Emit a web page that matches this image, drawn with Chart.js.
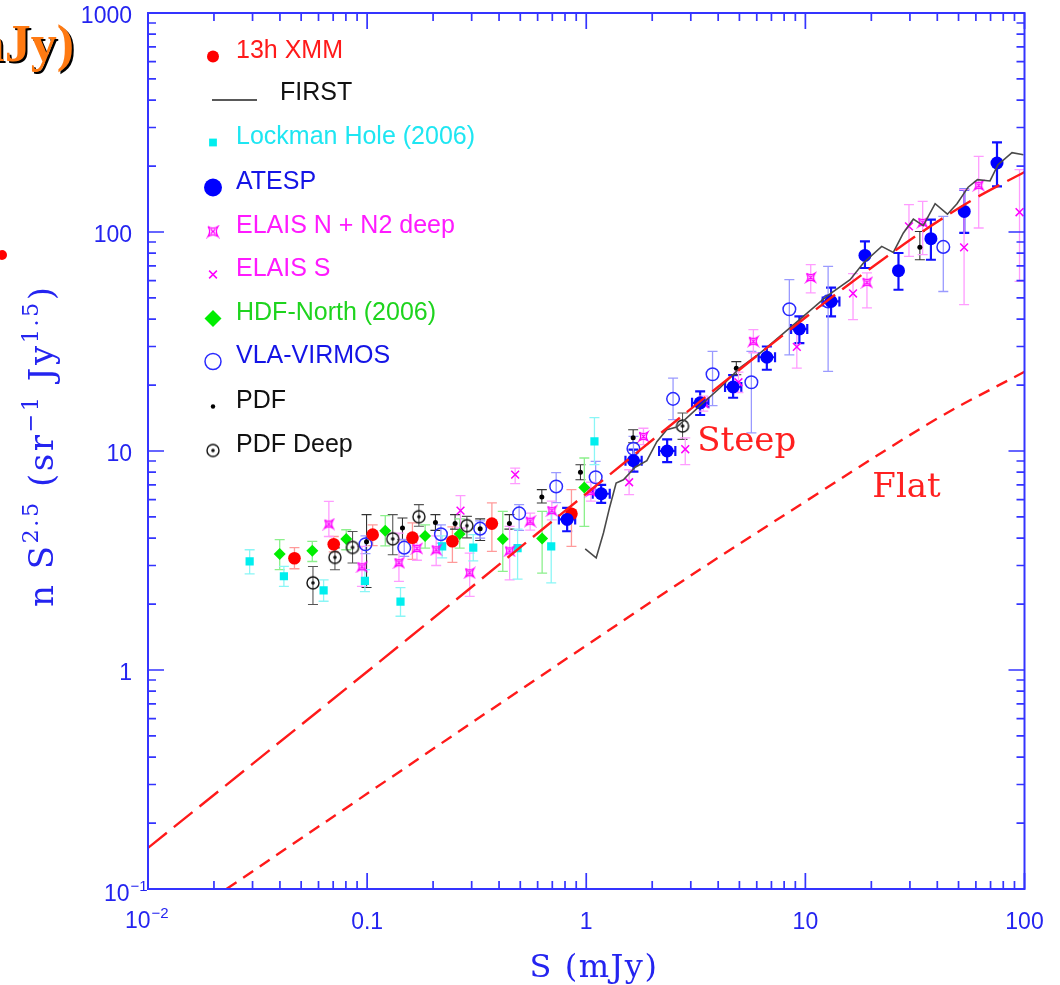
<!DOCTYPE html>
<html>
<head>
<meta charset="utf-8">
<script src="https://cdn.jsdelivr.net/npm/chart.js@4.4.1/dist/chart.umd.min.js"></script>
<style>
  html, body { margin: 0; padding: 0; background: #fff; overflow: hidden; }
  #wrap { position: relative; width: 1060px; height: 985px; overflow: hidden; }
  #counts { position: absolute; left: 0; top: 0; }
  .slide-title {
    position: absolute; left: -56px; top: 18px;
    font: bold 52px "Liberation Serif", serif; line-height: 52px;
    color: #ff7a12; text-shadow: 2px 2px 0 #000; white-space: nowrap;
  }
  .bullet {
    position: absolute; left: -3px; top: 250px; width: 10px; height: 10px;
    border-radius: 50%; background: #ff0000;
  }
</style>
</head>
<body>
<div id="wrap">
  <canvas id="counts" width="1060" height="985"></canvas>
  <div class="slide-title">(mJy)</div>
  <div class="bullet"></div>
</div>
<script>
// 1.4 GHz differential source counts, Euclidean-normalised (n S^2.5)

// 13h XMM
const xmmS  = [0.0466, 0.0704, 0.106, 0.161, 0.245, 0.371, 0.856];
const xmmV  = [3.24, 3.75, 4.15, 4.02, 3.87, 4.66, 5.17];
const xmmLo = [2.90, 3.46, 3.70, 3.20, 3.10, 3.48, 3.67];
const xmmHi = [3.62, 4.07, 4.60, 4.70, 4.50, 5.79, 6.66];

// FIRST counts (line)
const firstS = [0.989, 1.11, 1.198, 1.279, 1.369, 1.478, 1.672, 1.89, 2.10, 2.33, 2.59, 3.31, 4.08,
                5.04, 6.21, 8.82, 12.5, 16.0, 18.4, 22.3, 25.2, 28.0, 31.1, 34.5, 39.1, 44.5, 49.2,
                55.3, 61.0, 69.6, 75.7, 87.7, 98.9];
const firstV = [3.57, 3.25, 4.22, 5.54, 7.14, 7.39, 8.43, 9.03, 11.03, 12.51, 12.87, 16.1, 19.45,
                24.0, 28.0, 37.7, 50.8, 60.6, 72.2, 86.0, 80.7, 99.0, 114.4, 106.9, 134.6, 120.6, 134.6,
                160.2, 173.3, 171.0, 202.9, 230.2, 225.4];

// Lockman Hole (2006)
const lockS  = [0.0291, 0.0417, 0.0633, 0.0977, 0.142, 0.220, 0.305, 0.486, 0.692, 1.09];
const lockV  = [3.13, 2.68, 2.31, 2.55, 2.05, 3.67, 3.62, 3.60, 3.67, 11.07];
const lockLo = [2.75, 2.41, 2.06, 2.28, 1.76, 3.25, 3.15, 2.60, 2.50, 8.66];
const lockHi = [3.54, 2.97, 2.58, 2.87, 2.38, 4.10, 4.15, 4.40, 5.21, 14.2];

// ATESP
const atespS   = [0.818, 1.17, 1.642, 2.34, 3.31, 4.68, 6.67, 9.39, 13.1, 18.7, 26.6, 37.4, 53.1, 74.9];
const atespV   = [4.87, 6.38, 9.03, 10.0, 16.6, 19.6, 26.8, 36.1, 48.2, 78.2, 66.6, 93.2, 124.2, 206.6];
const atespLo  = [4.30, 5.80, 8.05, 8.90, 14.6, 17.5, 23.5, 31.1, 41.2, 68.5, 54.5, 74.7, 99.0, 161.5];
const atespHi  = [5.50, 7.00, 10.14, 11.3, 18.7, 22.2, 30.0, 41.2, 55.7, 90.6, 80.2, 113.8, 156, 256.6];
const atespSLo = [0.75, 1.07, 1.51, 2.15, 3.04, 4.30, 6.12, 8.61, 12.0, null, null, null, null, null];
const atespSHi = [0.89, 1.28, 1.79, 2.55, 3.61, 5.10, 7.27, 10.2, 14.3, null, null, null, null, null];

// ELAIS N + N2 deep
const elaisNS  = [0.0669, 0.0947, 0.1397, 0.1688, 0.2066, 0.2938, 0.447, 0.5547, 0.6967, 1.05,
                  1.824, 3.42, 5.79, 10.58, 19.1, 34.3, 61.8];
const elaisNV  = [4.64, 2.96, 3.09, 3.59, 3.54, 2.78, 3.50, 4.78, 5.34, 6.54,
                  11.66, 16.6, 31.7, 62.0, 58.9, 110.6, 163.3];
const elaisNLo = [4.07, 2.41, 2.54, 3.17, 3.00, 2.17, 2.58, 4.35, 4.85, 5.90,
                  10.7, 15.2, 28.1, 52.7, 45.0, 78.8, 104.3];
const elaisNHi = [5.89, 3.67, 4.22, 4.07, 4.10, 3.42, 4.53, 5.20, 5.90, 7.20,
                  12.7, 17.8, 35.8, 70.9, 65.0, 138, 221.4];

// ELAIS S
const elaisSS  = [0.2668, 0.4738, 1.569, 2.83, 4.95, 9.14, 16.5, 29.7, 53.0, 94.9];
const elaisSV  = [5.34, 7.80, 7.20, 10.19, 20.6, 29.9, 52.4, 106.1, 85.1, 123.1];
const elaisSLo = [4.45, 7.09, 6.32, 8.66, 18.5, 23.9, 39.8, 77.4, 46.6, 59.5];
const elaisSHi = [6.25, 8.36, 8.21, 11.47, 22.9, 37.1, 64.5, 133.3, 156, 192.5];

// HDF-North (2006)
const hdfS  = [0.0399, 0.0562, 0.0803, 0.121, 0.184, 0.2645, 0.416, 0.629, 0.980];
const hdfV  = [3.39, 3.50, 3.96, 4.32, 4.09, 4.18, 3.96, 3.99, 6.81];
const hdfLo = [2.87, 3.13, 3.54, 3.69, 3.60, 3.60, 2.82, 2.77, 4.53];
const hdfHi = [3.94, 3.87, 4.37, 5.07, 4.60, 4.90, 5.30, 5.30, 9.29];

// VLA-VIRMOS
const vlaS  = [0.0983, 0.1477, 0.2172, 0.328, 0.494, 0.729, 1.104, 1.642, 2.49, 3.77, 5.67, 8.45, 12.7, 42.6];
const vlaV  = [3.75, 3.62, 4.17, 4.42, 5.19, 6.89, 7.59, 10.24, 17.3, 22.4, 20.6, 44.4, 48.2, 85.5];
const vlaLo = [3.40, 3.30, 3.80, 4.00, 4.34, 5.81, 6.43, 8.82, 13.9, 16.1, 12.1, 27.5, 23.1, 53.5];
const vlaHi = [4.10, 3.95, 4.60, 4.80, 5.69, 7.96, 8.96, 11.66, 21.5, 28.5, 28.5, 60.6, 69.7, 117.8];

// PDF
const pdfS  = [0.0994, 0.145, 0.205, 0.252, 0.328, 0.446, 0.627, 0.941, 1.637, 4.84, 33.3];
const pdfV  = [3.85, 4.45, 4.72, 4.66, 4.42, 4.66, 6.17, 7.99, 11.5, 23.9, 85.1];
const pdfLo = [2.38, 3.94, 4.34, 4.40, 3.90, 4.40, 5.79, 7.39, 10.9, 22.3, 74.7];
const pdfHi = [5.12, 4.94, 5.12, 5.12, 4.90, 5.12, 6.66, 8.66, 12.5, 25.6, 100.6];

// PDF Deep
const deepS  = [0.0566, 0.0713, 0.0858, 0.1309, 0.1723, 0.2853, 2.75];
const deepV  = [2.50, 3.27, 3.63, 3.97, 5.01, 4.56, 13.0];
const deepLo = [1.99, 2.87, 3.08, 3.36, 4.53, 4.01, 11.3];
const deepHi = [2.97, 3.61, 4.29, 5.12, 5.69, 5.03, 14.9];

// model curves
const steepS = [0.01, 0.155, 1.1, 8.5, 26, 55, 100];
const steepV = [0.154, 1.40, 6.9, 35.8, 83, 136, 188];
const flatS  = [0.0228, 2.1, 11.5, 40.4, 100];
const flatV  = [0.1, 2.13, 6.43, 14.15, 23.0];

// axes: plain labels; powers of ten are written as base + exponent
const xTickValues = [0.01, 0.1, 1, 10, 100];
const xTickLabels = [['10', '\u22122'], '0.1', '1', '10', '100'];
const yTickValues = [0.1, 1, 10, 100, 1000];
const yTickLabels = [['10', '\u22121'], '1', '10', '100', '1000'];

const axisBlue = '#3434ff';
const labelBlue = '#2424f0';

function points(xs, ys) {
  return xs.map((x, i) => ({ x, y: ys[i] }));
}

function makeSymbol(size, draw) {
  const c = document.createElement('canvas');
  c.width = size;
  c.height = size;
  draw(c.getContext('2d'), size / 2);
  return c;
}

// concave square with a cross, used for ELAIS N
function elaisSymbol(r) {
  return makeSymbol(Math.ceil(r * 2 + 4), (g, m) => {
    g.strokeStyle = '#ff00ff';
    g.lineWidth = 1.3;
    g.beginPath();
    g.moveTo(m - r, m - r);
    g.quadraticCurveTo(m, m - r * 0.35, m + r, m - r);
    g.quadraticCurveTo(m + r * 0.35, m, m + r, m + r);
    g.quadraticCurveTo(m, m + r * 0.35, m - r, m + r);
    g.quadraticCurveTo(m - r * 0.35, m, m - r, m - r);
    g.moveTo(m - r * 0.5, m - r * 0.5); g.lineTo(m + r * 0.5, m + r * 0.5);
    g.moveTo(m + r * 0.5, m - r * 0.5); g.lineTo(m - r * 0.5, m + r * 0.5);
    g.stroke();
  });
}

// open circle with a central dot, used for PDF Deep
function dotCircleSymbol(r) {
  return makeSymbol(Math.ceil(r * 2 + 4), (g, m) => {
    g.strokeStyle = '#111';
    g.fillStyle = '#111';
    g.lineWidth = 1.4;
    g.beginPath();
    g.arc(m, m, r, 0, Math.PI * 2);
    g.stroke();
    g.beginPath();
    g.arc(m, m, 1.8, 0, Math.PI * 2);
    g.fill();
  });
}

const elaisMark = elaisSymbol(4.2);
const elaisLegendMark = elaisSymbol(5);
const deepMark = dotCircleSymbol(6);

const steepSet = {
  label: 'Steep', data: points(steepS, steepV), showLine: true, pointRadius: 0,
  borderColor: '#ff1a1a', borderWidth: 2.4, borderDash: [24, 9], tension: 0.35
};
const flatSet = {
  label: 'Flat', data: points(flatS, flatV), showLine: true, pointRadius: 0,
  borderColor: '#ff1a1a', borderWidth: 2.4, borderDash: [12, 8], tension: 0.35
};
const firstSet = {
  label: 'FIRST', data: points(firstS, firstV), showLine: true, pointRadius: 0,
  borderColor: '#4a4a4a', borderWidth: 1.6, tension: 0
};
const atespSet = {
  label: 'ATESP', data: points(atespS, atespV), pointStyle: 'circle', pointRadius: 6.5,
  backgroundColor: '#0000ff', borderColor: '#0000ff', borderWidth: 0,
  errLo: atespLo, errHi: atespHi, errSLo: atespSLo, errSHi: atespSHi,
  errColor: '#1010ff', errWidth: 2.2, cap: 5
};
const xmmSet = {
  label: '13h XMM', data: points(xmmS, xmmV), pointStyle: 'circle', pointRadius: 6.3,
  backgroundColor: '#ff0000', borderColor: '#ff0000', borderWidth: 0,
  errLo: xmmLo, errHi: xmmHi, errColor: '#ff9a9a', errWidth: 1.3, cap: 5
};
const pdfSet = {
  label: 'PDF', data: points(pdfS, pdfV), pointStyle: 'circle', pointRadius: 2.5,
  backgroundColor: '#000', borderColor: '#000', borderWidth: 0,
  errLo: pdfLo, errHi: pdfHi, errColor: '#333', errWidth: 1.1, cap: 5
};
const deepSet = {
  label: 'PDF Deep', data: points(deepS, deepV), pointStyle: deepMark, pointRadius: 6,
  backgroundColor: '#000', borderColor: '#000',
  errLo: deepLo, errHi: deepHi, errColor: '#555', errWidth: 1.1, cap: 5
};
const vlaSet = {
  label: 'VLA-VIRMOS', data: points(vlaS, vlaV), pointStyle: 'circle', pointRadius: 6.3,
  backgroundColor: 'rgba(0,0,0,0)', borderColor: '#2a2aff', borderWidth: 1.5,
  errLo: vlaLo, errHi: vlaHi, errColor: '#9a9aff', errWidth: 1.3, cap: 5
};
const hdfSet = {
  label: 'HDF-North (2006)', data: points(hdfS, hdfV), pointStyle: 'rectRot', pointRadius: 6,
  backgroundColor: '#00ee00', borderColor: '#00ee00', borderWidth: 0,
  errLo: hdfLo, errHi: hdfHi, errColor: '#8cf08c', errWidth: 1.3, cap: 5
};
const elaisSSet = {
  label: 'ELAIS S', data: points(elaisSS, elaisSV), pointStyle: 'crossRot', pointRadius: 5.5,
  backgroundColor: '#ff00ff', borderColor: '#ff00ff', borderWidth: 1.5,
  errLo: elaisSLo, errHi: elaisSHi, errColor: '#ff9cff', errWidth: 1.3, cap: 5
};
const elaisNSet = {
  label: 'ELAIS N + N2 deep', data: points(elaisNS, elaisNV), pointStyle: elaisMark, pointRadius: 5,
  backgroundColor: '#ff00ff', borderColor: '#ff00ff',
  errLo: elaisNLo, errHi: elaisNHi, errColor: '#ff9cff', errWidth: 1.3, cap: 5
};
const lockSet = {
  label: 'Lockman Hole (2006)', data: points(lockS, lockV), pointStyle: 'rect', pointRadius: 5.8,
  backgroundColor: '#00eeee', borderColor: '#00eeee', borderWidth: 0,
  errLo: lockLo, errHi: lockHi, errColor: '#8af6f6', errWidth: 1.3, cap: 5
};

// legend rows: text baseline, label colour, marker
const legendRows = [
  { ds: xmmSet, text: '#ff1a1a', y: 58, r: 6 },
  { line: true, label: 'FIRST', text: '#111', y: 100 },
  { ds: lockSet, text: '#1ee6f2', y: 144, r: 5.5 },
  { ds: atespSet, text: '#1414e6', y: 189, r: 9 },
  { ds: elaisNSet, text: '#ff1aff', y: 233, r: 5, mark: elaisLegendMark },
  { ds: elaisSSet, text: '#ff1aff', y: 276, r: 5.5 },
  { ds: hdfSet, text: '#1ed41e', y: 320, r: 8.5 },
  { ds: vlaSet, text: '#1414e6', y: 363, r: 8 },
  { ds: pdfSet, text: '#111', y: 408, r: 2.2 },
  { ds: deepSet, text: '#111', y: 452, r: 6 }
];

const errorBars = {
  id: 'errorBars',
  beforeDatasetsDraw(chart) {
    const { ctx, chartArea: a, scales: { x, y } } = chart;
    ctx.save();
    ctx.beginPath();
    ctx.rect(a.left, a.top, a.right - a.left, a.bottom - a.top);
    ctx.clip();
    chart.data.datasets.forEach(ds => {
      if (!ds.errLo) return;
      ctx.strokeStyle = ds.errColor;
      ctx.lineWidth = ds.errWidth;
      const c = ds.cap;
      ds.data.forEach((p, i) => {
        const px = x.getPixelForValue(p.x);
        const lo = y.getPixelForValue(ds.errLo[i]);
        const hi = y.getPixelForValue(ds.errHi[i]);
        ctx.beginPath();
        ctx.moveTo(px, lo); ctx.lineTo(px, hi);
        ctx.moveTo(px - c, lo); ctx.lineTo(px + c, lo);
        ctx.moveTo(px - c, hi); ctx.lineTo(px + c, hi);
        if (ds.errSLo && ds.errSLo[i] != null) {
          const py = y.getPixelForValue(p.y);
          const l = x.getPixelForValue(ds.errSLo[i]);
          const r = x.getPixelForValue(ds.errSHi[i]);
          ctx.moveTo(l, py); ctx.lineTo(r, py);
          ctx.moveTo(l, py - c); ctx.lineTo(l, py + c);
          ctx.moveTo(r, py - c); ctx.lineTo(r, py + c);
        }
        ctx.stroke();
      });
    });
    ctx.restore();
  }
};

function logTicks(scale) {
  const out = [];
  const lo = Math.round(Math.log10(scale.min));
  const hi = Math.round(Math.log10(scale.max));
  for (let e = lo; e <= hi; e++) {
    for (let m = 1; m <= 9; m++) {
      const v = m * Math.pow(10, e);
      if (v > scale.max * 1.0001) break;
      out.push({ px: scale.getPixelForValue(v), major: m === 1 });
    }
  }
  return out;
}

// box with inward ticks on all four sides
const frame = {
  id: 'frame',
  afterDraw(chart) {
    const { ctx, chartArea: a, scales: { x, y } } = chart;
    ctx.save();
    ctx.strokeStyle = axisBlue;
    ctx.lineWidth = 2;
    ctx.strokeRect(a.left, a.top, a.right - a.left, a.bottom - a.top);
    ctx.lineWidth = 1.7;
    ctx.beginPath();
    logTicks(x).forEach(t => {
      const len = t.major ? 16 : 8;
      ctx.moveTo(t.px, a.bottom); ctx.lineTo(t.px, a.bottom - len);
      ctx.moveTo(t.px, a.top); ctx.lineTo(t.px, a.top + len);
    });
    logTicks(y).forEach(t => {
      const len = t.major ? 16 : 8;
      ctx.moveTo(a.left, t.px); ctx.lineTo(a.left + len, t.px);
      ctx.moveTo(a.right, t.px); ctx.lineTo(a.right - len, t.px);
    });
    ctx.stroke();
    ctx.restore();
  }
};

function drawRich(ctx, parts, size) {
  let cx = 0;
  parts.forEach(p => {
    const fs = p.sup ? size * 0.66 : size;
    ctx.font = fs + 'px "DejaVu Serif"';
    ctx.fillText(p.t, cx, p.sup ? -size * 0.45 : 0);
    cx += ctx.measureText(p.t).width;
  });
  return cx;
}

// "10" with a raised exponent, for the end labels of both log axes
function drawPower(ctx, pair, left, baseline) {
  ctx.font = '23px "Liberation Sans"';
  ctx.fillText(pair[0], left, baseline);
  const w = ctx.measureText(pair[0]).width;
  ctx.font = '15px "Liberation Sans"';
  ctx.fillText(pair[1], left + w + 1, baseline - 10);
}

// legend, axis titles and curve labels
const annotations = {
  id: 'annotations',
  afterDraw(chart) {
    const { ctx, scales: { x, y } } = chart;
    const helpers = Chart.helpers;
    ctx.save();

    ctx.font = '25px "Liberation Sans"';
    ctx.textBaseline = 'alphabetic';
    legendRows.forEach(row => {
      if (row.line) {
        ctx.strokeStyle = '#222';
        ctx.lineWidth = 1.5;
        ctx.beginPath();
        ctx.moveTo(212, row.y); ctx.lineTo(257, row.y);
        ctx.stroke();
        ctx.fillStyle = row.text;
        ctx.fillText(row.label, 280, row.y);
        return;
      }
      const ds = row.ds;
      ctx.fillStyle = ds.backgroundColor;
      ctx.strokeStyle = ds.borderColor;
      ctx.lineWidth = ds.borderWidth || 0;
      helpers.drawPoint(ctx, {
        pointStyle: row.mark || ds.pointStyle, radius: row.r, rotation: 0, borderWidth: ds.borderWidth || 0
      }, 213, row.y - 1.5);
      ctx.font = '25px "Liberation Sans"';
      ctx.fillStyle = row.text;
      ctx.fillText(ds.label, 236, row.y);
    });

    ctx.fillStyle = labelBlue;
    drawPower(ctx, xTickLabels[0], x.getPixelForValue(xTickValues[0]) - 23, 928);
    drawPower(ctx, yTickLabels[0], 104, y.getPixelForValue(yTickValues[0]) + 12);

    ctx.fillStyle = '#ff2020';
    ctx.font = '34px "DejaVu Serif"';
    ctx.fillText('Steep', x.getPixelForValue(3.21), y.getPixelForValue(10));
    ctx.fillText('Flat', x.getPixelForValue(20.2), y.getPixelForValue(6.18));

    ctx.fillStyle = labelBlue;
    ctx.font = '32px "DejaVu Serif"';
    ctx.letterSpacing = '1.5px';
    ctx.textAlign = 'center';
    ctx.fillText('S (mJy)', 594, 977);
    ctx.textAlign = 'left';

    ctx.translate(53, 607);
    ctx.rotate(-Math.PI / 2);
    ctx.letterSpacing = '2.5px';
    drawRich(ctx, [
      { t: 'n S' }, { t: '2.5', sup: true }, { t: ' (sr' }, { t: '\u22121', sup: true },
      { t: ' Jy' }, { t: '1.5', sup: true }, { t: ')' }
    ], 34);
    ctx.restore();
  }
};

const tickFont = { family: 'Liberation Sans', size: 23 };

// keep the plot box fixed: the tick labels may overhang the margins
function noOverhang(s) {
  s.paddingTop = 0;
  s.paddingBottom = 0;
  s.paddingLeft = 0;
  s.paddingRight = 0;
}

// the power-of-ten labels are drawn by the annotations plugin
const plainLabel = labels => (v, i) => (Array.isArray(labels[i]) ? '' : labels[i]);

new Chart(document.getElementById('counts'), {
  type: 'scatter',
  data: {
    datasets: [steepSet, flatSet, firstSet, atespSet, xmmSet, pdfSet, deepSet,
               vlaSet, hdfSet, elaisSSet, elaisNSet, lockSet]
  },
  options: {
    responsive: false,
    animation: false,
    devicePixelRatio: 1,
    layout: { padding: { top: 13, right: 35.5, left: 0, bottom: 0 } },
    plugins: { legend: { display: false }, tooltip: { enabled: false } },
    scales: {
      x: {
        type: 'logarithmic', min: 0.01, max: 100,
        grid: { display: false, drawTicks: false },
        border: { display: false },
        afterBuildTicks: s => { s.ticks = xTickValues.map(value => ({ value })); },
        afterFit: s => { s.height = 96; noOverhang(s); },
        ticks: {
          autoSkip: false, maxRotation: 0, padding: 20, color: labelBlue, font: tickFont,
          callback: plainLabel(xTickLabels)
        }
      },
      y: {
        type: 'logarithmic', min: 0.1, max: 1000,
        grid: { display: false, drawTicks: false },
        border: { display: false },
        afterBuildTicks: s => { s.ticks = yTickValues.map(value => ({ value })); },
        afterFit: s => { s.width = 148; noOverhang(s); },
        ticks: {
          autoSkip: false, padding: 16, labelOffset: 4, color: labelBlue, font: tickFont,
          callback: plainLabel(yTickLabels)
        }
      }
    }
  },
  plugins: [errorBars, frame, annotations]
});
</script>
</body>
</html>
